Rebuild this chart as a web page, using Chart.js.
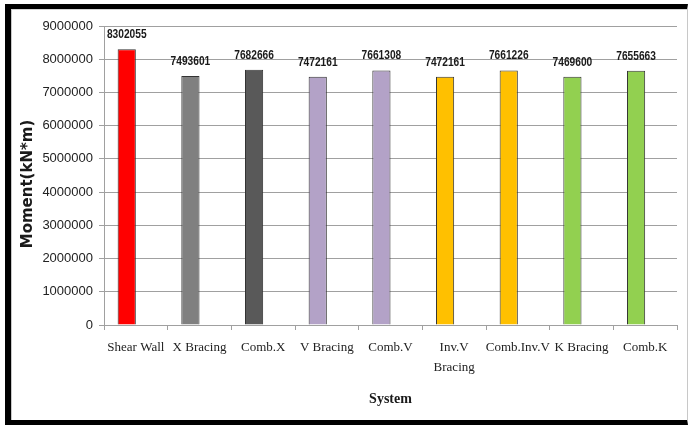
<!DOCTYPE html>
<html>
<head>
<meta charset="utf-8">
<script src="https://cdn.jsdelivr.net/npm/chart.js@4.4.1/dist/chart.umd.min.js"></script>
<style>
  html, body { margin: 0; padding: 0; background: #ffffff; }
  #wrap { position: relative; width: 692px; height: 425px; overflow: hidden; }
  #frame { position: absolute; left: 5px; top: 4px; width: 676px; height: 411px;
           border-top: 5px solid #000; border-left: 6px solid #000; border-bottom: 5px solid #000;
           border-right: 1px solid #c8c8c8; }
  #inner { position: absolute; left: 0; top: 0; right: 0; bottom: 0;
           border-top: 1px solid #d4d4d4; border-left: 1px solid #c8c8c8; }
  canvas { position: absolute; left: 0; top: 0; }
</style>
</head>
<body>
<div id="wrap">
  <div id="frame"><div id="inner"></div></div>
  <canvas id="c" width="692" height="425"></canvas>
</div>
<script>
const categories = ['Shear Wall', 'X Bracing', 'Comb.X', 'V Bracing', 'Comb.V', 'Inv.V Bracing', 'Comb.Inv.V', 'K Bracing', 'Comb.K'];
const moments = [8302055, 7493601, 7682666, 7472161, 7661308, 7472161, 7661226, 7469600, 7655663];
const barColors = ['#ff0000', '#808080', '#595959', '#b3a2c7', '#b3a2c7', '#ffc000', '#ffc000', '#92d050', '#92d050'];
const yTicks = [0, 1000000, 2000000, 3000000, 4000000, 5000000, 6000000, 7000000, 8000000, 9000000];
const xTitle = 'System';
const yTitle = 'Moment(kN*m)';

const gridGrey = '#a0a0a0';

const valueLabels = {
  id: 'valueLabels',
  afterDatasetsDraw(chart) {
    const ctx = chart.ctx;
    const meta = chart.getDatasetMeta(0);
    const sx = 0.85;
    ctx.save();
    ctx.font = 'bold 12px "Liberation Sans", Arial, sans-serif';
    ctx.fillStyle = '#1a1a1a';
    ctx.textAlign = 'center';
    ctx.textBaseline = 'alphabetic';
    meta.data.forEach((bar, i) => {
      ctx.save();
      ctx.translate(bar.x, bar.y - 11);
      ctx.scale(sx, 1);
      ctx.fillText(String(moments[i]), 0, 0);
      ctx.restore();
    });
    ctx.restore();
  }
};

const yTitlePlugin = {
  id: 'yTitlePlugin',
  afterDraw(chart) {
    const ctx = chart.ctx;
    ctx.save();
    ctx.translate(28, 184);
    ctx.rotate(-Math.PI / 2);
    ctx.font = 'bold 15px "DejaVu Sans", sans-serif';
    ctx.fillStyle = '#1a1a1a';
    ctx.textAlign = 'center';
    ctx.textBaseline = 'middle';
    ctx.fillText(yTitle, 0, 0);
    ctx.restore();
  }
};

new Chart(document.getElementById('c'), {
  type: 'bar',
  data: {
    labels: categories,
    datasets: [
      {
        data: moments,
        backgroundColor: barColors,
        borderColor: '#333333',
        borderWidth: 1,
        categoryPercentage: 2 / 3.5,
        barPercentage: 1
      },
      {
        data: categories.map(() => null),
        backgroundColor: 'rgba(0,0,0,0)',
        categoryPercentage: 2 / 3.5,
        barPercentage: 1
      }
    ]
  },
  options: {
    responsive: false,
    animation: false,
    devicePixelRatio: 1,
    layout: { padding: { top: 26, right: 15, left: 0, bottom: 0 } },
    plugins: { legend: { display: false }, tooltip: { enabled: false } },
    scales: {
      x: {
        afterFit(scale) { scale.height = 100; },
        grid: { display: true, offset: true, drawOnChartArea: false, drawTicks: true, tickLength: 5, color: gridGrey },
        border: { display: true, color: gridGrey, width: 1 },
        ticks: {
          color: '#222',
          padding: 8,
          maxRotation: 0,
          autoSkip: false,
          font: { family: '"Liberation Serif", serif', size: 13, lineHeight: 20 / 13 },
          callback(value) {
            const label = categories[value];
            return (label.length > 12 && label.indexOf(' ') > 0) ? label.split(' ') : label;
          }
        },
        title: {
          display: true,
          text: xTitle,
          color: '#1a1a1a',
          font: { family: '"Liberation Serif", serif', size: 14, weight: 'bold', lineHeight: 1.2 },
          padding: { top: 0, bottom: 17 }
        }
      },
      y: {
        min: 0,
        max: 9000000,
        afterFit(scale) { scale.width = 104; },
        afterBuildTicks(scale) { scale.ticks = yTicks.map(v => ({ value: v })); },
        grid: { color: gridGrey, lineWidth: 1, drawTicks: true, tickLength: 5 },
        border: { display: true, color: gridGrey, width: 1 },
        ticks: {
          color: '#222',
          padding: 6,
          font: { family: '"Liberation Sans", Arial, sans-serif', size: 13 },
          callback(value) { return String(value); }
        }
      }
    }
  },
  plugins: [valueLabels, yTitlePlugin]
});
</script>
</body>
</html>
